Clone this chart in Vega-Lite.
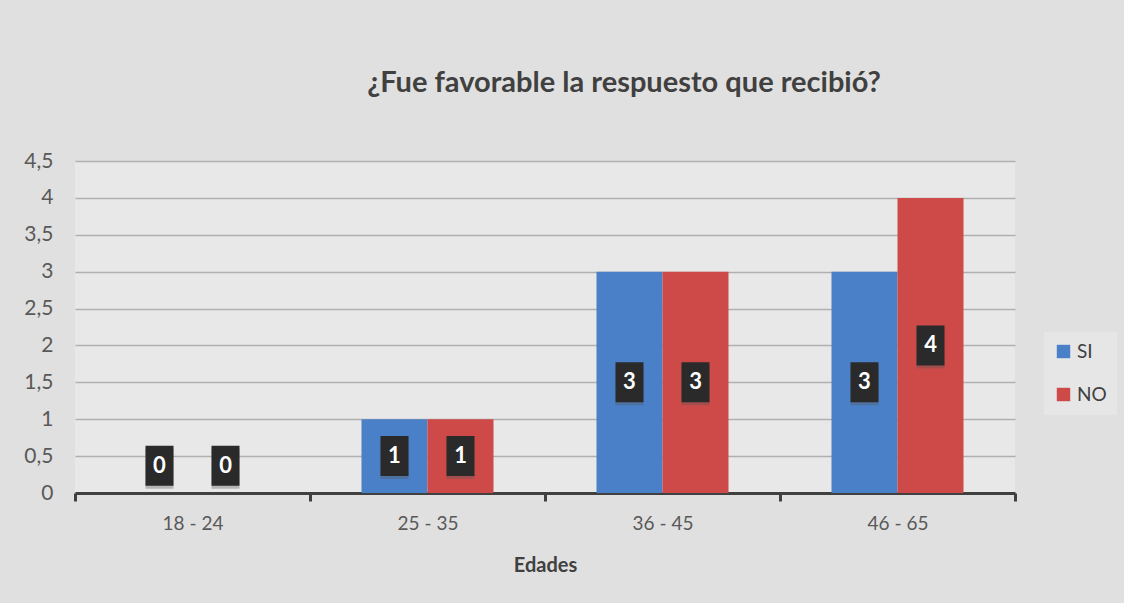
{
  "$schema": "https://vega.github.io/schema/vega-lite/v6.json",
  "width": 940,
  "height": 332,
  "autosize": {"type": "none"},
  "padding": {"left": 75, "top": 161, "right": 109, "bottom": 110},
  "background": "#e0e0e0",
  "config": {
    "view": {"stroke": null, "fill": "#e8e8e8"},
    "font": "Lato",
    "axisY": {
      "labelFontSize": 21,
      "labelColor": "#595959",
      "labelPadding": 22,
      "labelOverlap": false,
      "ticks": false,
      "domain": false,
      "gridColor": "#b0b0b0",
      "gridWidth": 1.5
    }
  },
  "title": {
    "text": "¿Fue favorable la respuesto que recibió?",
    "fontSize": 29,
    "fontWeight": "bold",
    "color": "#404040",
    "anchor": "middle",
    "dx": 79,
    "offset": 52
  },
  "data": {
    "values": [
      {"edad": "18 - 24", "respuesta": "SI", "valor": 0},
      {"edad": "18 - 24", "respuesta": "NO", "valor": 0},
      {"edad": "25 - 35", "respuesta": "SI", "valor": 1},
      {"edad": "25 - 35", "respuesta": "NO", "valor": 1},
      {"edad": "36 - 45", "respuesta": "SI", "valor": 3},
      {"edad": "36 - 45", "respuesta": "NO", "valor": 3},
      {"edad": "46 - 65", "respuesta": "SI", "valor": 3},
      {"edad": "46 - 65", "respuesta": "NO", "valor": 4}
    ]
  },
  "transform": [{"calculate": "max(datum.valor / 2, 0.37)", "as": "mid"}],
  "encoding": {
    "x": {
      "field": "edad",
      "type": "nominal",
      "sort": ["18 - 24", "25 - 35", "36 - 45", "46 - 65"],
      "scale": {"paddingInner": 0, "paddingOuter": 0},
      "title": "Edades",
      "axis": {
        "labelAngle": 0,
        "labelFontSize": 19,
        "labelColor": "#595959",
        "labelPadding": 13,
        "domainColor": "#404040",
        "domainWidth": 3,
        "tickColor": "#404040",
        "tickWidth": 3,
        "tickSize": 8,
        "tickBand": "extent",
        "titleFontSize": 20,
        "titleFontWeight": "bold",
        "titleColor": "#404040",
        "titlePadding": 22
      }
    },
    "xOffset": {
      "field": "respuesta",
      "type": "nominal",
      "sort": ["SI", "NO"],
      "scale": {"paddingInner": 0, "paddingOuter": 0.78}
    }
  },
  "layer": [
    {
      "mark": {"type": "bar"},
      "encoding": {
        "y": {
          "field": "valor",
          "type": "quantitative",
          "scale": {"domain": [0, 4.5], "nice": false},
          "title": null,
          "axis": {
            "values": [0, 0.5, 1, 1.5, 2, 2.5, 3, 3.5, 4, 4.5],
            "labelExpr": "replace(format(datum.value, '.1~f'), '.', ',')"
          }
        },
        "color": {
          "field": "respuesta",
          "type": "nominal",
          "scale": {"domain": ["SI", "NO"], "range": ["#4a80c8", "#cd4a48"]},
          "legend": {
            "title": null,
            "orient": "none",
            "legendX": 969,
            "legendY": 171,
            "symbolType": "square",
            "symbolSize": 180,
            "symbolStrokeWidth": 0,
            "labelFontSize": 19,
            "labelColor": "#404040",
            "rowPadding": 23,
            "fillColor": "#e6e6e6",
            "padding": 10
          }
        }
      }
    },
    {
      "mark": {"type": "point", "shape": "M-0.7,-1H0.7V1H-0.7Z", "filled": true, "color": "#555555", "opacity": 0.35, "size": 1600, "xOffset": 3, "yOffset": 3},
      "encoding": {"y": {"field": "mid", "type": "quantitative", "title": null, "axis": {"values": [0, 0.5, 1, 1.5, 2, 2.5, 3, 3.5, 4, 4.5], "labelExpr": "replace(format(datum.value, '.1~f'), '.', ',')"}}}
    },
    {
      "mark": {"type": "point", "shape": "M-0.7,-1H0.7V1H-0.7Z", "filled": true, "color": "#2a2a2a", "opacity": 1, "size": 1600},
      "encoding": {"y": {"field": "mid", "type": "quantitative", "title": null, "axis": {"values": [0, 0.5, 1, 1.5, 2, 2.5, 3, 3.5, 4, 4.5], "labelExpr": "replace(format(datum.value, '.1~f'), '.', ',')"}}}
    },
    {
      "mark": {"type": "text", "color": "white", "fontSize": 22, "fontWeight": "bold", "baseline": "middle", "align": "center"},
      "encoding": {
        "y": {"field": "mid", "type": "quantitative", "title": null, "axis": {"values": [0, 0.5, 1, 1.5, 2, 2.5, 3, 3.5, 4, 4.5], "labelExpr": "replace(format(datum.value, '.1~f'), '.', ',')"}},
        "text": {"field": "valor", "type": "quantitative"}
      }
    }
  ]
}
